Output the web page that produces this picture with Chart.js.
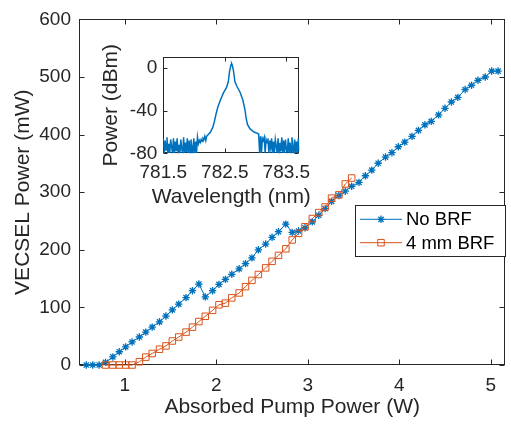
<!DOCTYPE html>
<html>
<head>
<meta charset="utf-8">
<script src="https://cdn.jsdelivr.net/npm/chart.js@4.4.1/dist/chart.umd.min.js"></script>
<style>
  html, body { margin: 0; padding: 0; background: #fff; }
  #wrap { position: relative; width: 511px; height: 424px; }
  #main { position: absolute; left: 0; top: 0; }
  #inset { position: absolute; left: 95px; top: 40px; }
</style>
</head>
<body>
<div id="wrap">
  <canvas id="main" width="511" height="424"></canvas>
  <canvas id="inset" width="225" height="172"></canvas>
</div>
<script>
// absorbed pump power (W) and output power (mW)
const noBrfPump = [0.58, 0.65, 0.72, 0.79, 0.87, 0.94, 1.01, 1.08, 1.16, 1.23, 1.30, 1.38, 1.45, 1.52, 1.59, 1.67,
  1.74, 1.81, 1.88, 1.96, 2.03, 2.10, 2.17, 2.25, 2.32, 2.39, 2.46, 2.54, 2.61, 2.68, 2.76, 2.83, 2.90, 2.97,
  3.05, 3.12, 3.19, 3.26, 3.34, 3.41, 3.48, 3.56, 3.63, 3.70, 3.77, 3.85, 3.92, 3.99, 4.06, 4.14, 4.21, 4.28,
  4.35, 4.43, 4.50, 4.57, 4.64, 4.72, 4.79, 4.86, 4.94, 5.01, 5.08];
const noBrfPower = [0, 0, 0, 4.6, 14, 23, 31.4, 40, 48.6, 57, 65.7, 75, 85, 95.7, 105.7, 117,
  129, 140.5, 118.3, 129, 140, 148.6, 157.5, 167, 176, 186, 200, 210, 221.7, 231.4, 244.6, 230.3, 232.6, 238.3,
  248.6, 260, 271.4, 284, 294.3, 301.7, 310.3, 317, 328.6, 338.3, 350.3, 361, 368.6, 378.9, 386.9, 397, 407.4, 417,
  422.9, 434.3, 445.7, 456.6, 464.6, 478.3, 485.7, 494.3, 500, 510.3, 510.3];

const brfPump = [0.79, 0.87, 0.94, 1.01, 1.08, 1.16, 1.23, 1.30, 1.38, 1.45, 1.52, 1.59, 1.67, 1.74, 1.81, 1.88,
  1.96, 2.03, 2.10, 2.17, 2.25, 2.32, 2.39, 2.46, 2.54, 2.61, 2.68, 2.76, 2.83, 2.90, 2.97, 3.05, 3.12, 3.19,
  3.26, 3.34, 3.41, 3.48];
const brfPower = [0, 0, 0, 0, 0, 5.7, 13.7, 20, 27.4, 33.1, 41.7, 48.6, 57.1, 65.7, 75.4, 84.6,
  94.9, 104.6, 107.4, 116.6, 125.1, 136, 146.9, 157.1, 168.6, 180, 190.3, 201.7, 217.1, 228.6, 240, 254.3, 264.6, 274.3,
  289.7, 295.4, 314.3, 324.6];

const xTicks = [1, 2, 3, 4, 5];
const yTicks = [0, 100, 200, 300, 400, 500, 600];

// inset: optical spectrum
const specWl = [
  781.500, 781.515, 781.530, 781.545, 781.560, 781.575, 781.590, 781.605, 781.620, 781.635, 781.650, 781.665,
  781.680, 781.695, 781.710, 781.725, 781.740, 781.755, 781.770, 781.785, 781.800, 781.815, 781.830, 781.845,
  781.860, 781.875, 781.890, 781.905, 781.920, 781.935, 781.950, 781.965, 781.980, 781.995, 782.010, 782.025,
  782.040, 782.055, 782.070, 782.085, 782.100, 782.115, 782.130, 782.145, 782.160, 782.175, 782.190, 782.205,
  782.223, 782.267, 782.304, 782.331, 782.358, 782.384, 782.428, 782.481, 782.524, 782.556, 782.577, 782.600,
  782.610, 782.620, 782.641, 782.664, 782.696, 782.749, 782.792, 782.825, 782.846, 782.867, 782.910, 782.974, 783.039,
  783.050, 783.065, 783.080, 783.095, 783.110, 783.125, 783.140, 783.155, 783.170, 783.185, 783.200, 783.215,
  783.230, 783.245, 783.260, 783.275, 783.290, 783.305, 783.320, 783.335, 783.350, 783.365, 783.380, 783.395,
  783.410, 783.425, 783.440, 783.455, 783.470, 783.485, 783.500, 783.515, 783.530, 783.545, 783.560, 783.575,
  783.590, 783.605, 783.620, 783.635, 783.650, 783.665, 783.680, 783.695, 783.710];
const specDbm = [
  -66, -80, -68, -77, -65, -80, -71, -80, -67, -74, -80, -66,
  -80, -69, -78, -66, -80, -72, -80, -67, -76, -80, -65, -80,
  -70, -79, -66, -80, -68, -80, -67, -75, -80, -66, -80, -69,
  -80, -65, -71, -68, -70, -67, -69, -66, -67, -64, -68, -64,
  -62.9, -60, -55.7, -50, -42.9, -37.1, -30, -22.9, -18.6, -12.9, -2.9, 3.0,
  4.3, 3.0, -2.9, -12.9, -17.1, -22.9, -30, -38.6, -47.1, -52.9, -57.1, -60, -61.4,
  -63, -80, -64, -80, -66, -68, -65, -80, -67, -70, -66, -80,
  -68, -75, -66, -80, -69, -80, -67, -73, -80, -66, -80, -70,
  -78, -65, -80, -68, -80, -67, -76, -80, -66, -80, -70, -80,
  -65, -74, -80, -67, -80, -69, -80, -66, -78];
const wlTicks = [781.5, 782.5, 783.5];
const dbmTicks = [-80, -40, 0];

const BLUE = '#0072BD';
const ORANGE = '#D95319';
const INK = '#262626';
const FONT = '"Liberation Sans", Arial, Helvetica, sans-serif';

Chart.defaults.font.family = FONT;
Chart.defaults.color = INK;

// box around the axes with inward ticks on all four sides, like matlab
const boxTicks = {
  id: 'boxTicks',
  beforeDatasetsDraw(chart, args, opts) {
    const { ctx, chartArea: a, scales: { x, y } } = chart;
    const len = opts.len || 5;
    const L = Math.round(a.left) + 0.5, R = Math.round(a.right) - 0.5;
    const T = Math.round(a.top) + 0.5, B = Math.round(a.bottom) - 0.5;
    ctx.save();
    ctx.strokeStyle = INK;
    ctx.lineWidth = 1;
    ctx.strokeRect(L, T, R - L, B - T);
    ctx.beginPath();
    x.ticks.forEach(t => {
      const px = Math.round(x.getPixelForValue(t.value)) + 0.5;
      ctx.moveTo(px, B); ctx.lineTo(px, B - len);
      ctx.moveTo(px, T); ctx.lineTo(px, T + len);
    });
    y.ticks.forEach(t => {
      const py = Math.round(y.getPixelForValue(t.value)) + 0.5;
      ctx.moveTo(L, py); ctx.lineTo(L + len, py);
      ctx.moveTo(R, py); ctx.lineTo(R - len, py);
    });
    ctx.stroke();
    ctx.restore();
  }
};

// axis titles for the inset, drawn without chart.js squeezing them to the axis length
const insetTitles = {
  id: 'insetTitles',
  afterDraw(chart, args, o) {
    const { ctx, chartArea: a } = chart;
    ctx.save();
    ctx.fillStyle = INK;
    ctx.font = o.size + 'px ' + FONT;
    ctx.textAlign = 'center';
    ctx.textBaseline = 'middle';
    ctx.fillText(o.xText, (a.left + a.right) / 2, o.xTitleY);
    ctx.translate(o.yTitleX, (a.top + a.bottom) / 2);
    ctx.rotate(-Math.PI / 2);
    ctx.fillText(o.yText, 0, 0);
    ctx.restore();
  }
};

function drawMarker(ctx, style, x, y, r) {
  ctx.beginPath();
  if (style === 'star') {
    const d = r * Math.SQRT1_2;
    ctx.moveTo(x - r, y); ctx.lineTo(x + r, y);
    ctx.moveTo(x, y - r); ctx.lineTo(x, y + r);
    ctx.moveTo(x - d, y - d); ctx.lineTo(x + d, y + d);
    ctx.moveTo(x - d, y + d); ctx.lineTo(x + d, y - d);
  } else {
    const s = r * Math.SQRT1_2;
    ctx.rect(x - s, y - s, 2 * s, 2 * s);
  }
  ctx.stroke();
}

const legendBox = {
  id: 'legendBox',
  afterDraw(chart, args, o) {
    const ctx = chart.ctx;
    ctx.save();
    ctx.fillStyle = '#fff';
    ctx.fillRect(o.left, o.top, o.width, o.height);
    ctx.strokeStyle = INK;
    ctx.lineWidth = 1;
    ctx.strokeRect(o.left + 0.5, o.top + 0.5, o.width, o.height);
    ctx.font = o.fontSize + 'px ' + FONT;
    ctx.textBaseline = 'middle';
    ctx.textAlign = 'left';
    chart.data.datasets.forEach((ds, i) => {
      const y = o.top + o.rows[i];
      ctx.strokeStyle = ds.borderColor;
      ctx.lineWidth = ds.borderWidth;
      ctx.beginPath();
      ctx.moveTo(o.left + 5, y); ctx.lineTo(o.left + 47, y);
      ctx.stroke();
      ctx.lineWidth = ds.pointBorderWidth;
      drawMarker(ctx, ds.pointStyle, o.left + 26, y, ds.pointRadius);
      ctx.fillStyle = '#000';
      ctx.fillText(ds.label, o.left + 51, y + 1);
    });
    ctx.restore();
  }
};

const toXY = (xs, ys) => xs.map((v, i) => ({ x: v, y: ys[i] }));

new Chart(document.getElementById('main'), {
  type: 'line',
  data: {
    datasets: [
      {
        label: 'No BRF',
        data: toXY(noBrfPump, noBrfPower),
        borderColor: BLUE,
        backgroundColor: BLUE,
        borderWidth: 1,
        pointStyle: 'star',
        pointRadius: 3.7,
        pointBorderWidth: 1.3,
        pointBorderColor: BLUE,
        tension: 0,
        clip: false,
        order: 2
      },
      {
        label: '4 mm BRF',
        data: toXY(brfPump, brfPower),
        borderColor: ORANGE,
        backgroundColor: 'rgba(0,0,0,0)',
        borderWidth: 1,
        pointStyle: 'rect',
        pointRadius: 4.6,
        pointBorderWidth: 1,
        pointBorderColor: ORANGE,
        tension: 0,
        clip: false,
        order: 1
      }
    ]
  },
  options: {
    responsive: false,
    animation: false,
    events: [],
    layout: { padding: { top: 15, right: 3, left: 0, bottom: 0 } },
    plugins: {
      legend: { display: false },
      tooltip: { enabled: false },
      boxTicks: { len: 5 },
      legendBox: { left: 355, top: 205, width: 150, height: 51, rows: [14.3, 37.7], fontSize: 18.5 }
    },
    scales: {
      x: {
        type: 'linear',
        min: 0.5,
        max: 5.16,
        afterBuildTicks: s => { s.ticks = xTicks.map(v => ({ value: v })); },
        afterFit: s => { s.height = 59; },
        grid: { display: false, drawTicks: false },
        border: { display: false },
        ticks: { font: { size: 19 }, padding: 9, maxRotation: 0, callback: v => String(v) },
        title: { display: true, text: 'Absorbed Pump Power (W)', font: { size: 21 }, padding: { top: 0, bottom: 4 } }
      },
      y: {
        min: 0,
        max: 600,
        afterBuildTicks: s => { s.ticks = yTicks.map(v => ({ value: v })); },
        afterFit: s => { s.width = 79; },
        grid: { display: false, drawTicks: false },
        border: { display: false },
        ticks: { font: { size: 19 }, padding: 8, callback: v => String(v) },
        title: { display: true, text: 'VECSEL Power (mW)', font: { size: 21 }, padding: { top: 10.7, bottom: 0 } }
      }
    }
  },
  plugins: [boxTicks, legendBox]
});

new Chart(document.getElementById('inset'), {
  type: 'line',
  data: {
    datasets: [{
      label: 'spectrum',
      data: toXY(specWl, specDbm),
      borderColor: BLUE,
      borderWidth: 1.5,
      pointRadius: 0,
      tension: 0,
      fill: false
    }]
  },
  options: {
    responsive: false,
    animation: false,
    events: [],
    layout: { padding: { top: 8.3, right: 19.3, left: 0, bottom: 0 } },
    plugins: {
      legend: { display: false },
      tooltip: { enabled: false },
      boxTicks: { len: 4 },
      insetTitles: { xText: 'Wavelength (nm)', yText: 'Power (dBm)', size: 21, xTitleY: 157, yTitleX: 16.7 }
    },
    scales: {
      x: {
        type: 'linear',
        min: 781.5,
        max: 783.71,
        afterBuildTicks: s => { s.ticks = wlTicks.map(v => ({ value: v })); },
        afterFit: s => { s.height = 58.7; },
        grid: { display: false, drawTicks: false },
        border: { display: false },
        ticks: { font: { size: 19 }, padding: 8, maxRotation: 0, callback: v => String(v) }
      },
      y: {
        min: -80,
        max: 10,
        afterBuildTicks: s => { s.ticks = dbmTicks.map(v => ({ value: v })); },
        afterFit: s => { s.width = 68.3; },
        grid: { display: false, drawTicks: false },
        border: { display: false },
        ticks: { font: { size: 19 }, padding: 6, callback: v => String(v) }
      }
    }
  },
  plugins: [boxTicks, insetTitles]
});
</script>
</body>
</html>
